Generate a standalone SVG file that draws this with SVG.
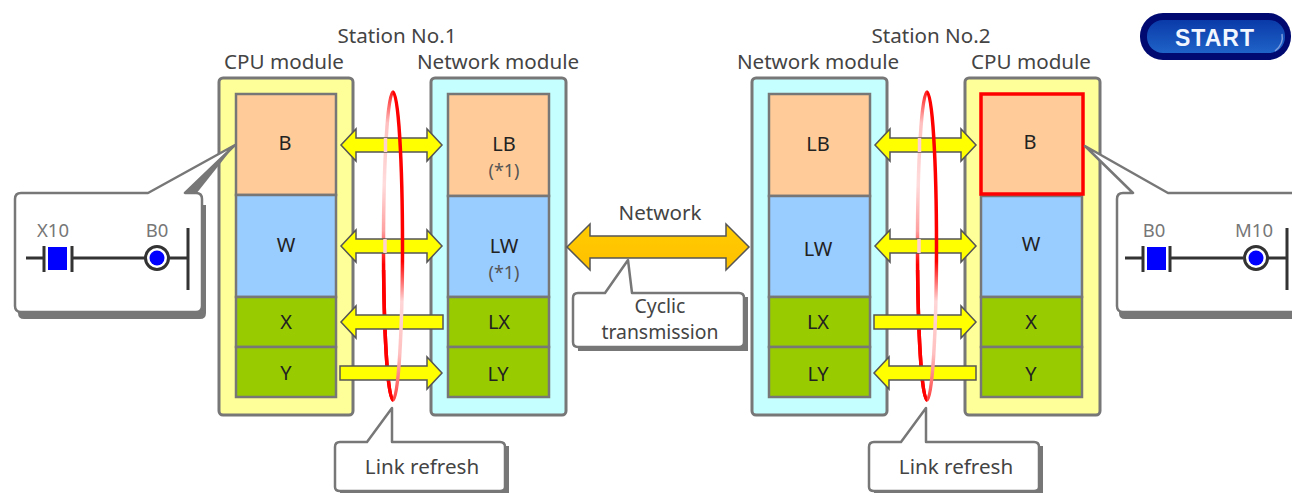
<svg xmlns="http://www.w3.org/2000/svg" width="1292" height="493" viewBox="0 0 1292 493">
<style>
text{font-family:"Noto Sans","DejaVu Sans",sans-serif;font-size:20.6px;fill:#444;text-anchor:middle}
.cell{font-size:20px;fill:#222}
.note{fill:#555;font-size:18px}
.gray{fill:#777;font-size:18.5px}
.small{font-size:19.4px}
.stroke{stroke:#777;stroke-width:2.5}
.cpu{fill:#ffff99;stroke:#777;stroke-width:3}
.net{fill:#c6ffff;stroke:#777;stroke-width:3}
.o{fill:#ffcc99}.b{fill:#99ccff}.g{fill:#99cc00}
.arrow{fill:#ffff00;stroke:#555;stroke-width:1.5;stroke-linejoin:miter}
.call{fill:#fff;stroke:#777;stroke-width:2.5;stroke-linejoin:round}
.shadow{fill:#777}
.lad{stroke:#333;fill:none;stroke-width:3}
</style>
<defs>
<linearGradient id="fadeR" gradientUnits="userSpaceOnUse" x1="0" y1="92" x2="0" y2="400">
<stop offset="0" stop-color="#ff0000"/><stop offset=".55" stop-color="#ff0000"/><stop offset=".68" stop-color="#ffd6d6"/><stop offset=".85" stop-color="#ffc0c0"/><stop offset="1" stop-color="#ff4040"/>
</linearGradient>
<linearGradient id="fadeL" gradientUnits="userSpaceOnUse" x1="0" y1="92" x2="0" y2="400">
<stop offset="0" stop-color="#ff2020"/><stop offset=".1" stop-color="#ffc0c0"/><stop offset=".3" stop-color="#ffdcdc"/><stop offset=".45" stop-color="#ffa0a0"/><stop offset=".56" stop-color="#ff0000"/><stop offset="1" stop-color="#ff0000"/>
</linearGradient>
<linearGradient id="btn" x1="0" y1="0" x2="0" y2="1">
<stop offset="0" stop-color="#0a3aa8"/><stop offset="1" stop-color="#1f63c8"/>
</linearGradient>
<linearGradient id="orange" x1="0" y1="0" x2="0" y2="1">
<stop offset="0" stop-color="#ffcc00"/><stop offset="1" stop-color="#ffc000"/>
</linearGradient>
<path id="dbl" class="arrow" d="M0 0L15-16V-7H86V-16L101 0L86 16V7H15V16Z"/>
<path id="rightA" class="arrow" d="M0-7H87V-16L102 0L87 16V7H0Z"/>
<path id="leftA" class="arrow" d="M102-7H15V-16L0 0L15 16V7H102Z"/>
<path id="ringBack" fill="none" stroke="url(#fadeL)" stroke-width="3.5" d="M0 92A9.5 154 0 0 0 0 400"/>
<path id="ringSolid" fill="none" stroke="#ff0000" stroke-width="3.5" d="M-9.38 270A9.5 154 0 0 0 0 400"/>
<path id="ringFront" fill="none" stroke="url(#fadeR)" stroke-width="3.5" d="M0 92A9.5 154 0 0 1 0 400"/>
</defs>
<rect width="1292" height="493" fill="#fff"/>

<g id="station1-labels"><text x="397" y="43">Station No.1</text></g>
<g id="station2-labels"><text x="931" y="43">Station No.2</text></g>

<g id="cpu1">
<text x="284" y="69">CPU module</text>
<rect class="cpu" x="219" y="78" width="134" height="337" rx="4"/>
<rect class="o stroke" x="236" y="94" width="100" height="101"/>
<rect class="b stroke" x="236" y="195" width="100" height="102"/>
<rect class="g stroke" x="236" y="297" width="100" height="50"/>
<rect class="g stroke" x="236" y="347" width="100" height="50"/>
<text class="cell" x="285" y="150">B</text><text class="cell" x="286" y="252">W</text><text class="cell" x="286" y="329">X</text><text class="cell" x="286" y="380">Y</text>
</g>
<g id="net1">
<text x="498" y="69">Network module</text>
<rect class="net" x="431" y="78" width="135" height="337" rx="4"/>
<rect class="o stroke" x="448" y="94" width="101" height="102"/>
<rect class="b stroke" x="448" y="196" width="101" height="101"/>
<rect class="g stroke" x="448" y="297" width="101" height="50"/>
<rect class="g stroke" x="448" y="347" width="101" height="50"/>
<text class="cell" x="504" y="151">LB</text><text class="note" x="504" y="177">(*1)</text>
<text class="cell" x="504" y="253">LW</text><text class="note" x="504" y="279">(*1)</text>
<text class="cell" x="499" y="329">LX</text><text class="cell" x="498" y="381">LY</text>
</g>
<g id="net2">
<text x="818" y="69">Network module</text>
<rect class="net" x="752" y="78" width="135" height="337" rx="4"/>
<rect class="o stroke" x="769" y="94" width="101" height="102"/>
<rect class="b stroke" x="769" y="196" width="101" height="101"/>
<rect class="g stroke" x="769" y="297" width="101" height="50"/>
<rect class="g stroke" x="769" y="347" width="101" height="50"/>
<text class="cell" x="818" y="151">LB</text><text class="cell" x="818" y="256">LW</text><text class="cell" x="818" y="329">LX</text><text class="cell" x="818" y="381">LY</text>
</g>
<g id="cpu2">
<text x="1031" y="69">CPU module</text>
<rect class="cpu" x="965" y="78" width="135" height="337" rx="4"/>
<rect class="b stroke" x="981" y="196" width="101" height="101"/>
<rect class="g stroke" x="981" y="297" width="101" height="50"/>
<rect class="g stroke" x="981" y="347" width="101" height="50"/>
<rect class="o" x="981" y="94" width="102" height="100" stroke="#ff0000" stroke-width="3.5"/>
<text class="cell" x="1030" y="149">B</text><text class="cell" x="1031" y="251">W</text><text class="cell" x="1031" y="329">X</text><text class="cell" x="1031" y="381">Y</text>
</g>

<g id="connectors">
<use href="#ringBack" x="393"/>
<use href="#ringBack" x="927"/>
<use href="#ringSolid" x="393"/>
<use href="#ringSolid" x="927"/>
<use href="#dbl" x="341" y="145"/><use href="#dbl" x="341" y="246"/>
<use href="#leftA" x="341" y="322"/><use href="#rightA" x="340" y="373"/>
<use href="#dbl" x="875" y="145"/><use href="#dbl" x="875" y="246"/>
<use href="#rightA" x="874" y="322"/><use href="#leftA" x="874" y="373"/>
<path fill="none" stroke="#ffd0d0" stroke-width="3.5" d="M385.5 138V152M385 239V253M919.5 138V152M919 239V253"/>
<use href="#ringFront" x="393"/><use href="#ringFront" x="927"/>
<path d="M567 247L590 224V236H726V224L749 247L726 270V258H590V270Z" fill="url(#orange)" stroke="#555" stroke-width="1.5"/>
</g>
<g id="network-label"><text x="660" y="220">Network</text></g>

<g id="callout-cyclic">
<path class="shadow" d="M578 297H748V351H578Z"/>
<path class="call" d="M578 293H605L628 260L632 293H739Q744 293 744 298V342Q744 347 739 347H578Q573 347 573 342V298Q573 293 578 293Z"/>
<text class="small" x="660" y="312.5">Cyclic</text><text class="small" x="660" y="339">transmission</text>
</g>
<g id="callout-link1">
<path class="shadow" d="M340 446H509V493H340Z"/>
<path class="call" d="M340 442H367L392 408V442H500Q505 442 505 447V487Q505 491 500 491H340Q335 491 335 487V447Q335 442 340 442Z"/>
<text x="422" y="474">Link refresh</text>
</g>
<g id="callout-link2">
<path class="shadow" d="M874 446H1043V493H874Z"/>
<path class="call" d="M874 442H901L926 408V442H1034Q1039 442 1039 447V487Q1039 491 1034 491H874Q869 491 869 487V447Q869 442 874 442Z"/>
<text x="956" y="474">Link refresh</text>
</g>

<g id="callout-left">
<path class="shadow" d="M235 145L196 194H185Z"/>
<path class="shadow" d="M24 205H206V313Q206 319 200 319H24Q18 319 18 313Z"/>
<path class="call" d="M21 193H148L235 145L185 193H196Q202 193 202 199V306Q202 312 196 312H21Q15 312 15 306V199Q15 193 21 193Z"/>
<text class="gray" x="53" y="237">X10</text><text class="gray" x="157" y="237">B0</text>
<path class="lad" d="M26 258H43M73 258H145M169 258H188M188 228V290M44 246V272M72 246V272"/>
<rect x="48" y="247" width="19" height="23" fill="#0000ff"/>
<circle cx="157" cy="258" r="11.5" fill="#fff" stroke="#333" stroke-width="3"/><circle cx="157" cy="258" r="7.5" fill="#0000ff"/>
</g>
<g id="callout-right">
<path class="shadow" d="M1120 205H1292V319H1125Q1119 319 1119 313Z"/>
<path class="call" d="M1085 146L1133 193H1123Q1117 193 1117 199V306Q1117 312 1123 312H1296V193H1168Z"/>
<text class="gray" x="1154" y="237">B0</text><text class="gray" x="1254" y="237">M10</text>
<path class="lad" d="M1125 258H1142M1171 258H1243M1267 258H1287M1287 228V290M1143 246V272M1170 246V272"/>
<rect x="1147" y="247" width="19" height="23" fill="#0000ff"/>
<circle cx="1256" cy="258" r="11.5" fill="#fff" stroke="#333" stroke-width="3"/><circle cx="1256" cy="258" r="7.5" fill="#0000ff"/>
</g>

<g id="start-button">
<rect x="1140" y="13" width="151" height="47" rx="23" fill="#000a70"/>
<rect x="1147" y="20" width="138" height="33" rx="16" fill="url(#btn)"/>
<path d="M1282 34Q1284 44 1275 51" fill="none" stroke="#7d9ddc" stroke-width="1.5"/>
<text x="1215" y="46" style="font-family:'Liberation Sans',Arial,sans-serif;font-weight:bold;font-size:23px;fill:#f2f6ff;letter-spacing:1px">START</text>
</g>
</svg>
